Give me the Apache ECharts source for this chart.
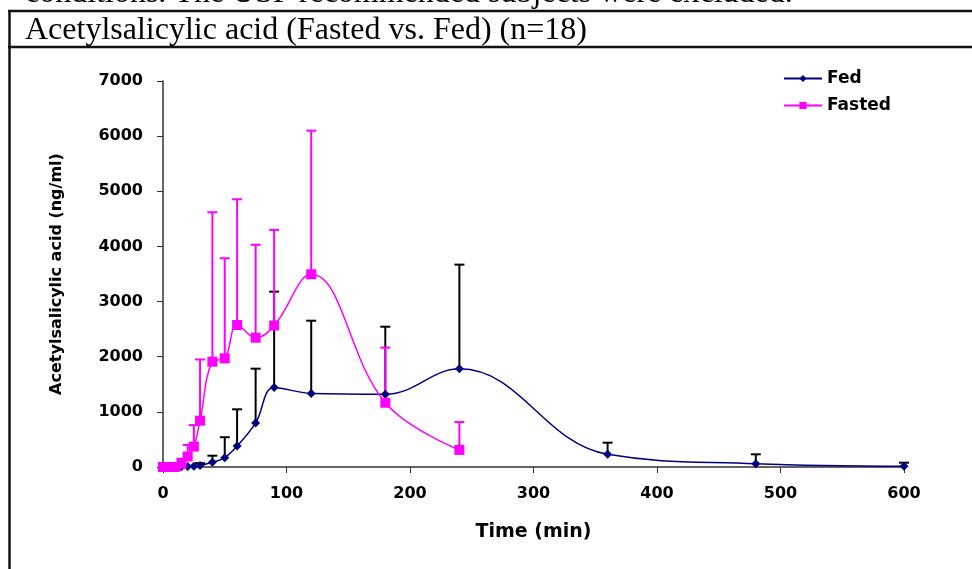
<!DOCTYPE html>
<html lang="en">
<head>
    <meta charset="UTF-8"/>
    <title>Acetylsalicylic acid (Fasted vs. Fed)</title>
    <script src="https://cdn.jsdelivr.net/npm/echarts@6/dist/echarts.min.js"></script>
    <style>
        html, body { margin: 0; padding: 0; background: #fff; }
        #main { width: 972px; height: 569px; }
    </style>
</head>
<body>
<div id="main"></div>
<script type="text/javascript">
    // time points (min)
    var fedTimes = [0, 10, 15, 20, 25, 30, 40, 50, 60, 75, 90, 120, 180, 240, 360, 480, 600];
    var fastedTimes = [0, 5, 10, 15, 20, 25, 30, 40, 50, 60, 75, 90, 120, 180, 240];

    // mean concentrations (ng/ml)
    var fedMean = [0, 0, 5, 10, 15, 25, 85, 170, 380, 800, 1440, 1335, 1320, 1780, 230, 60, 15];
    var fastedMean = [0, 0, 0, 60, 190, 370, 840, 1910, 1970, 2575, 2345, 2565, 3495, 1165, 310];

    // standard deviations (upper bars only)
    var fedSD = [0, 0, 0, 0, 0, 45, 120, 370, 666, 983, 1740, 1318, 1224, 1890, 211, 170, 63];
    var fastedSD = [0, 0, 0, 90, 210, 390, 1110, 2710, 1815, 2280, 1685, 1735, 2605, 1000, 505];

    function pairs(xs, ys) {
        var out = [];
        for (var i = 0; i < xs.length; i++) out.push([xs[i], ys[i]]);
        return out;
    }
    function bars(xs, ys, sd) {
        var out = [];
        for (var i = 0; i < xs.length; i++) {
            if (sd[i] > 0) out.push([xs[i], ys[i], ys[i] + sd[i]]);
        }
        return out;
    }
    function errorBar(color) {
        return function (params, api) {
            var lo = api.coord([api.value(0), api.value(1)]);
            var hi = api.coord([api.value(0), api.value(2)]);
            var half = 5;
            var st = { stroke: color, lineWidth: 2 };
            return {
                type: 'group',
                children: [
                    { type: 'line', shape: { x1: lo[0], y1: lo[1], x2: hi[0], y2: hi[1] }, style: st },
                    { type: 'line', shape: { x1: hi[0] - half, y1: hi[1], x2: hi[0] + half, y2: hi[1] }, style: st }
                ]
            };
        };
    }

    var myChart = echarts.init(document.getElementById('main'));

    var axisFont = { fontFamily: 'DejaVu Sans', fontWeight: 'bold', fontSize: 16, color: '#000' };
    var serif = '32px "Liberation Serif"';

    option = {
        animation: false,
        backgroundColor: '#fff',
        grid: { left: 163, right: 68, top: 81, bottom: 102 },
        graphic: [
            { type: 'text', x: 25, y: -6,
              style: { text: 'conditions. The USP recommended subjects were excluded.', font: serif, fill: '#000', verticalAlign: 'middle' } },
            { type: 'line', shape: { x1: 8, y1: 11, x2: 972, y2: 11 }, style: { stroke: '#111', lineWidth: 2.5 } },
            { type: 'line', shape: { x1: 8, y1: 47, x2: 972, y2: 47 }, style: { stroke: '#111', lineWidth: 2.5 } },
            { type: 'line', shape: { x1: 9.5, y1: 10, x2: 9.5, y2: 569 }, style: { stroke: '#111', lineWidth: 2.5 } },
            { type: 'text', x: 25, y: 31,
              style: { text: 'Acetylsalicylic acid (Fasted vs. Fed) (n=18)', font: serif, fill: '#000', verticalAlign: 'middle' } }
        ],
        legend: {
            data: ['Fed', 'Fasted'],
            orient: 'vertical',
            left: 783,
            top: 70,
            padding: 0,
            itemWidth: 38,
            itemHeight: 9,
            itemGap: 10,
            textStyle: { fontFamily: 'DejaVu Sans', fontWeight: 'bold', fontSize: 17, color: '#000' }
        },
        xAxis: {
            type: 'value',
            min: 0,
            max: 600,
            interval: 100,
            name: 'Time (min)',
            nameLocation: 'middle',
            nameGap: 56,
            nameTextStyle: { fontFamily: 'DejaVu Sans', fontWeight: 'bold', fontSize: 19, color: '#000' },
            axisLine: { lineStyle: { color: '#333', width: 1.5 } },
            axisTick: { show: true, length: 6, lineStyle: { color: '#333' } },
            axisLabel: Object.assign({ margin: 19 }, axisFont),
            splitLine: { show: false }
        },
        yAxis: {
            type: 'value',
            min: 0,
            max: 7000,
            interval: 1000,
            name: 'Acetylsalicylic acid (ng/ml)',
            nameLocation: 'middle',
            nameGap: 98,
            nameRotate: 90,
            nameTextStyle: { fontFamily: 'DejaVu Sans', fontWeight: 'bold', fontSize: 16, color: '#000' },
            axisLine: { show: true, lineStyle: { color: '#333', width: 1.5 } },
            axisTick: { show: true, length: 6, lineStyle: { color: '#333' } },
            axisLabel: Object.assign({ margin: 20, formatter: function (v) { return String(v); } }, axisFont),
            splitLine: { show: false }
        },
        series: [
            {
                name: 'Fed',
                type: 'line',
                data: pairs(fedTimes, fedMean),
                smooth: 0.4,
                symbol: 'diamond',
                symbolSize: 9,
                lineStyle: { color: '#000080', width: 1.5 },
                itemStyle: { color: '#000080' },
                z: 3
            },
            {
                name: 'Fasted',
                type: 'line',
                data: pairs(fastedTimes, fastedMean),
                smooth: 0.4,
                symbol: 'rect',
                symbolSize: 10,
                lineStyle: { color: '#ff00ff', width: 1.5 },
                itemStyle: { color: '#ff00ff' },
                z: 4
            },
            {
                name: 'Fed SD',
                type: 'custom',
                renderItem: errorBar('#000'),
                data: bars(fedTimes, fedMean, fedSD),
                z: 2
            },
            {
                name: 'Fasted SD',
                type: 'custom',
                renderItem: errorBar('#ff00ff'),
                data: bars(fastedTimes, fastedMean, fastedSD),
                z: 2
            }
        ]
    };

    myChart.setOption(option);
</script>
</body>
</html>
